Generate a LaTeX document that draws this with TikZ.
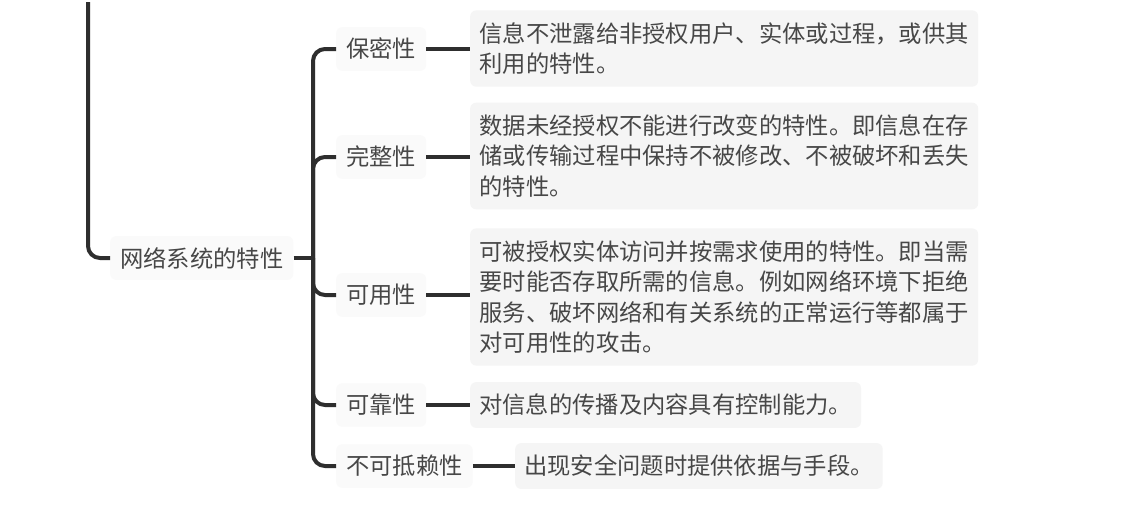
\documentclass[tikz,border=0pt]{standalone}
\usepackage{fontspec}
\setmainfont{Noto Sans CJK SC}
\usepackage{tikz}
\definecolor{linegray}{HTML}{2E2E2E}
\definecolor{boxgray}{HTML}{F5F5F5}
\definecolor{textgray}{HTML}{474747}
\tikzset{
  topic/.style={fill=boxgray!55, rounded corners=6pt, inner xsep=10pt, inner ysep=11pt, text=textgray, anchor=west, font=\fontsize{23.3}{30.5}\selectfont},
  note/.style={fill=boxgray, rounded corners=6pt, inner xsep=9pt, inner ysep=12pt, align=left, text=textgray, anchor=west, font=\fontsize{23.3}{30.5}\selectfont},
  branch/.style={draw=linegray, line width=4pt, rounded corners=12pt}
}

\begin{document}
\begin{tikzpicture}[x=1pt,y=-1pt]
\fill[white] (0,0) rectangle (1142,502);
\node[topic] (root) at (110,256) {网络系统的特性};
\node[topic] (baomi) at (336,47) {保密性};
\node[topic] (wanzheng) at (336,155) {完整性};
\node[topic] (keyong) at (336,293) {可用性};
\node[topic] (kekao) at (336,403) {可靠性};
\node[topic] (bukedilai) at (336,464) {不可抵赖性};
\node[note, minimum width=508pt] (baomi-d) at (470,46.5) {信息不泄露给非授权用户、实体或过程，或供其\\利用的特性。};
\node[note, minimum width=508pt] (wanzheng-d) at (470,154) {数据未经授权不能进行改变的特性。即信息在存\\储或传输过程中保持不被修改、不被破坏和丢失\\的特性。};
\node[note, minimum width=508pt] (keyong-d) at (470,295) {可被授权实体访问并按需求使用的特性。即当需\\要时能否存取所需的信息。例如网络环境下拒绝\\服务、破坏网络和有关系统的正常运行等都属于\\对可用性的攻击。};
\node[note] (kekao-d) at (470,403) {对信息的传播及内容具有控制能力。};
\node[note] (bukedilai-d) at (515,464) {出现安全问题时提供依据与手段。};
\coordinate (top) at (88,0);
\coordinate (fork) at (313,256);
\draw[branch] (top) |- (root.west);
\draw[branch] (root.east) -- (fork);
\draw[branch] (fork) |- (baomi.west);
\draw[branch] (fork) |- (wanzheng.west);
\draw[branch] (fork) |- (keyong.west);
\draw[branch] (fork) |- (kekao.west);
\draw[branch] (fork) |- (bukedilai.west);
% topic to its note
\draw[branch] (baomi.east) -- (baomi.east -| baomi-d.west);
\draw[branch] (wanzheng.east) -- (wanzheng.east -| wanzheng-d.west);
\draw[branch] (keyong.east) -- (keyong.east -| keyong-d.west);
\draw[branch] (kekao.east) -- (kekao.east -| kekao-d.west);
\draw[branch] (bukedilai.east) -- (bukedilai.east -| bukedilai-d.west);
\end{tikzpicture}
\end{document}
